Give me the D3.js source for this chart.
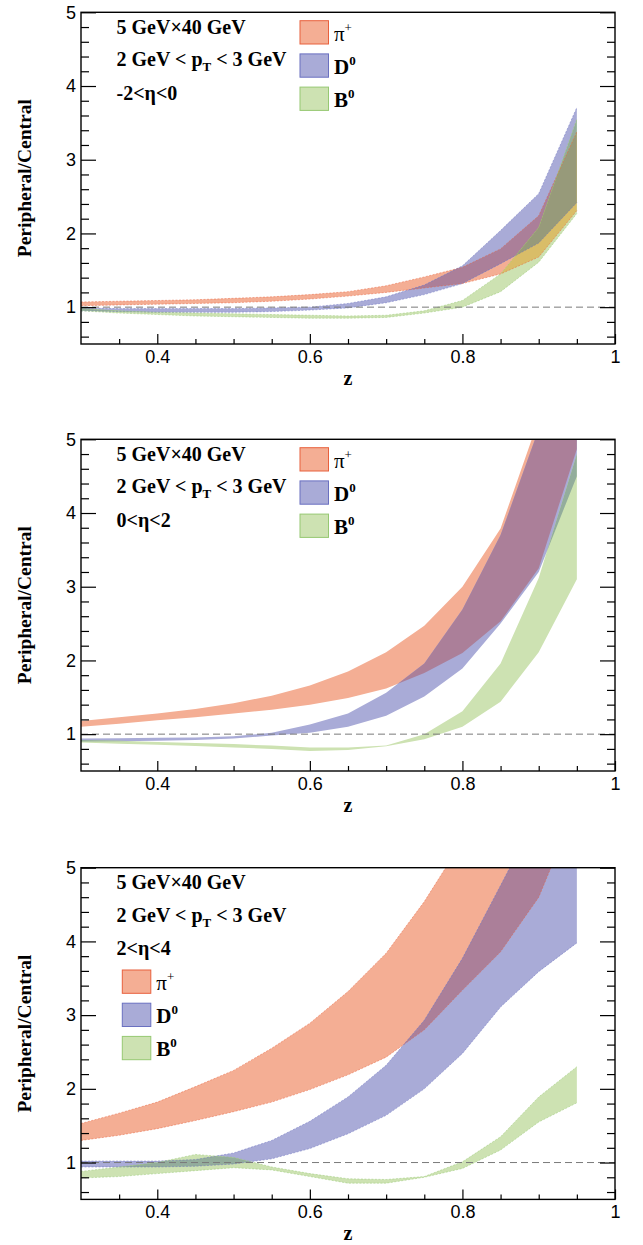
<!DOCTYPE html>
<html>
<head>
<meta charset="utf-8">
<script src="https://cdn.jsdelivr.net/npm/d3@7"></script>
<style>
  html, body { margin: 0; padding: 0; background: #fff; }
  svg { display: block; }
</style>
</head>
<body>
<script>
// z grid of the bands
const zValues = [0.3, 0.35, 0.4, 0.45, 0.5, 0.55, 0.6, 0.65, 0.7, 0.75, 0.8, 0.85, 0.9, 0.95];

const etaLabels = ["-2<η<0", "0<η<2", "2<η<4"];

// panel 1 : -2 < eta < 0
const pionUpper1 = [1.07, 1.08, 1.09, 1.10, 1.12, 1.14, 1.17, 1.21, 1.29, 1.41, 1.54, 1.79, 2.24, 3.38];
const pionLower1 = [1.02, 1.03, 1.04, 1.05, 1.06, 1.08, 1.11, 1.15, 1.20, 1.26, 1.32, 1.45, 1.68, 2.31];
const dUpper1 = [0.99, 0.98, 0.98, 0.98, 0.98, 0.99, 1.00, 1.05, 1.14, 1.30, 1.56, 2.04, 2.54, 3.71];
const dLower1 = [0.95, 0.94, 0.93, 0.93, 0.93, 0.94, 0.96, 0.99, 1.06, 1.17, 1.32, 1.59, 1.87, 2.42];
const bUpper1 = [0.98, 0.95, 0.93, 0.92, 0.91, 0.90, 0.89, 0.88, 0.89, 0.95, 1.09, 1.45, 2.08, 3.55];
const bLower1 = [0.95, 0.92, 0.90, 0.88, 0.87, 0.86, 0.85, 0.85, 0.86, 0.92, 1.00, 1.21, 1.61, 2.27];

// panel 2 : 0 < eta < 2
const pionUpper2 = [1.18, 1.23, 1.28, 1.34, 1.42, 1.52, 1.66, 1.85, 2.11, 2.47, 3.00, 3.79, 5.27, 6.50];
const pionLower2 = [1.10, 1.14, 1.19, 1.23, 1.28, 1.33, 1.40, 1.49, 1.62, 1.83, 2.10, 2.53, 3.25, 4.87];
const dUpper2 = [0.94, 0.945, 0.95, 0.955, 0.97, 1.02, 1.13, 1.28, 1.56, 1.96, 2.69, 3.70, 5.14, 6.50];
const dLower2 = [0.90, 0.905, 0.91, 0.92, 0.94, 0.98, 1.02, 1.10, 1.25, 1.51, 1.89, 2.50, 3.20, 4.50];
const bUpper2 = [0.92, 0.91, 0.895, 0.88, 0.865, 0.845, 0.82, 0.82, 0.845, 1.00, 1.31, 1.96, 3.12, 4.80];
const bLower2 = [0.885, 0.87, 0.855, 0.84, 0.82, 0.80, 0.77, 0.785, 0.835, 0.93, 1.10, 1.44, 2.11, 3.10];

// panel 3 : 2 < eta < 4
const pionUpper3 = [1.53, 1.67, 1.82, 2.03, 2.25, 2.55, 2.89, 3.32, 3.84, 4.54, 5.36, 6.30, 7.30, 8.30];
const pionLower3 = [1.30, 1.37, 1.46, 1.57, 1.69, 1.82, 1.99, 2.19, 2.43, 2.80, 3.34, 3.86, 4.60, 5.85];
const dUpper3 = [1.02, 1.02, 1.02, 1.04, 1.13, 1.30, 1.56, 1.89, 2.32, 2.93, 3.77, 4.76, 5.75, 6.70];
const dLower3 = [0.94, 0.94, 0.94, 0.95, 0.98, 1.05, 1.19, 1.39, 1.64, 2.00, 2.48, 3.11, 3.59, 3.98];
const bUpper3 = [0.88, 0.94, 1.00, 1.11, 1.07, 0.94, 0.85, 0.78, 0.77, 0.81, 1.01, 1.35, 1.89, 2.30];
const bLower3 = [0.79, 0.81, 0.85, 0.89, 0.93, 0.90, 0.81, 0.72, 0.72, 0.80, 0.92, 1.17, 1.55, 1.81];

const yTicks = [1, 2, 3, 4, 5];
const yMinor = [0.6, 0.8, 1.2, 1.4, 1.6, 1.8, 2.2, 2.4, 2.6, 2.8, 3.2, 3.4, 3.6, 3.8, 4.2, 4.4, 4.6, 4.8];
const xTicks = [0.4, 0.6, 0.8, 1];
const xMinor = [0.35, 0.45, 0.5, 0.55, 0.65, 0.7, 0.75, 0.85, 0.9, 0.95];

const panels = [
	{ eta: etaLabels[0], pion: [pionLower1, pionUpper1], d0: [dLower1, dUpper1], b0: [bLower1, bUpper1], edges: true, legend: "right" },
	{ eta: etaLabels[1], pion: [pionLower2, pionUpper2], d0: [dLower2, dUpper2], b0: [bLower2, bUpper2], edges: false, legend: "right" },
	{ eta: etaLabels[2], pion: [pionLower3, pionUpper3], d0: [dLower3, dUpper3], b0: [bLower3, bUpper3], edges: true, legend: "left" }
];

const colors = {
	pion: { fill: "#f4ae94", line: "#e8603c" },
	d0: { fill: "#a9abd7", line: "#6a70c0" },
	b0: { fill: "#cde2b2", line: "#96c872" },
	pd: "#ab7f99",
	db: "#93ad9c",
	pb: "#d9bd68",
	pdb: "#979a7a"
};

const W = 643, H = 1245;
const left = 81, right = 615;
const panelTops = [12.3, 439.3, 867.7];
const panelH = 331.7;
const serif = "'Liberation Serif', 'Times New Roman', serif";
const sans = "'Liberation Sans', Arial, sans-serif";

const svg = d3.select("body").append("svg")
	.attr("width", W)
	.attr("height", H);

svg.append("rect").attr("width", W).attr("height", H).attr("fill", "#fff");
const defs = svg.append("defs");

const x = d3.scaleLinear().domain([0.3, 1]).range([left, right]);

panels.forEach((p, i) => {
	const top = panelTops[i];
	const bottom = top + panelH;
	const y = d3.scaleLinear().domain([0.5, 5]).range([bottom, top]);

	const toRows = ([lo, hi]) => zValues.map((z, k) => ({ z, lo: lo[k], hi: hi[k] }));
	const area = d3.area().x(d => x(d.z)).y0(d => y(d.lo)).y1(d => y(d.hi));
	const edgeLo = d3.line().x(d => x(d.z)).y(d => y(d.lo));
	const edgeHi = d3.line().x(d => x(d.z)).y(d => y(d.hi));

	const bands = {
		pion: toRows(p.pion),
		d0: toRows(p.d0),
		b0: toRows(p.b0)
	};

	// clip paths: plot area and each band
	defs.append("clipPath").attr("id", `plot${i}`)
		.append("rect").attr("x", left).attr("y", top).attr("width", right - left).attr("height", panelH);
	Object.entries(bands).forEach(([key, rows]) => {
		defs.append("clipPath").attr("id", `c${i}-${key}`)
			.append("path").attr("d", area(rows));
	});

	const g = svg.append("g").attr("clip-path", `url(#plot${i})`);

	// plain bands
	["pion", "d0", "b0"].forEach(key => {
		g.append("path").attr("d", area(bands[key])).attr("fill", colors[key].fill);
	});

	// overlaps
	g.append("g").attr("clip-path", `url(#c${i}-pion)`)
		.append("path").attr("d", area(bands.d0)).attr("fill", colors.pd);
	g.append("g").attr("clip-path", `url(#c${i}-d0)`)
		.append("path").attr("d", area(bands.b0)).attr("fill", colors.db);
	g.append("g").attr("clip-path", `url(#c${i}-pion)`)
		.append("path").attr("d", area(bands.b0)).attr("fill", colors.pb);
	g.append("g").attr("clip-path", `url(#c${i}-pion)`)
		.append("g").attr("clip-path", `url(#c${i}-d0)`)
		.append("path").attr("d", area(bands.b0)).attr("fill", colors.pdb);

	if (p.edges) {
		["pion", "d0", "b0"].forEach(key => {
			[edgeLo, edgeHi].forEach(fn => {
				g.append("path").attr("d", fn(bands[key]))
					.attr("fill", "none")
					.attr("stroke", colors[key].line)
					.attr("stroke-width", 0.8)
					.attr("stroke-opacity", 0.6)
					.attr("stroke-dasharray", "2,1.5");
			});
		});
	}

	// dashed reference at 1
	svg.append("line")
		.attr("x1", left).attr("x2", right)
		.attr("y1", y(1)).attr("y2", y(1))
		.attr("stroke", "#7a7a7a")
		.attr("stroke-width", 1)
		.attr("stroke-dasharray", "7,4");

	// axes (ticks point inward)
	const axisG = svg.append("g");
	axisG.append("g").attr("transform", `translate(${left},0)`)
		.call(d3.axisLeft(y).tickValues(yTicks).tickSizeInner(-15).tickSizeOuter(0).tickPadding(5).tickFormat(d3.format("d")));
	axisG.append("g").attr("transform", `translate(${left},0)`)
		.call(d3.axisLeft(y).tickValues(yMinor).tickSizeInner(-8).tickSizeOuter(0).tickFormat(""));
	axisG.append("g").attr("transform", `translate(${right},0)`)
		.call(d3.axisRight(y).tickValues(yTicks).tickSizeInner(-15).tickSizeOuter(0).tickFormat(""));
	axisG.append("g").attr("transform", `translate(${right},0)`)
		.call(d3.axisRight(y).tickValues(yMinor).tickSizeInner(-8).tickSizeOuter(0).tickFormat(""));
	axisG.append("g").attr("transform", `translate(0,${bottom})`)
		.call(d3.axisBottom(x).tickValues(xTicks).tickSizeInner(-10).tickSizeOuter(0).tickPadding(6).tickFormat(d => d === 1 ? "1" : d3.format(".1f")(d)));
	axisG.append("g").attr("transform", `translate(0,${bottom})`)
		.call(d3.axisBottom(x).tickValues(xMinor).tickSizeInner(-5).tickSizeOuter(0).tickFormat(""));

	axisG.selectAll(".domain").remove();
	axisG.selectAll(".tick line").attr("stroke", "#000").attr("stroke-width", 1.2);
	axisG.selectAll(".tick text")
		.attr("font-family", sans)
		.attr("font-size", 18)
		.attr("fill", "#000");

	// frame
	svg.append("rect")
		.attr("x", left).attr("y", top)
		.attr("width", right - left).attr("height", panelH)
		.attr("fill", "none")
		.attr("stroke", "#000")
		.attr("stroke-width", 1.4);

	// axis titles
	svg.append("text")
		.attr("transform", `translate(31,${(top + bottom) / 2}) rotate(-90)`)
		.attr("text-anchor", "middle")
		.attr("font-family", serif)
		.attr("font-weight", "bold")
		.attr("font-size", 19.5)
		.text("Peripheral/Central");

	svg.append("text")
		.attr("x", (left + right) / 2)
		.attr("y", bottom + 41)
		.attr("text-anchor", "middle")
		.attr("font-family", serif)
		.attr("font-weight", "bold")
		.attr("font-size", 20)
		.text("z");

	// annotation text
	const info = svg.append("g")
		.attr("font-family", serif)
		.attr("font-weight", "bold")
		.attr("font-size", 20)
		.attr("fill", "#000");
	info.append("text").attr("x", 116.5).attr("y", top + 21.5).text("5 GeV×40 GeV");
	const pt = info.append("text").attr("x", 116.5).attr("y", top + 54);
	pt.append("tspan").text("2 GeV < p");
	pt.append("tspan").attr("dy", 5).attr("font-size", 13).text("T");
	pt.append("tspan").attr("dy", -5).text(" < 3 GeV");
	info.append("text").attr("x", 116.5).attr("y", top + 87.5).text(p.eta);

	// legend
	const lx = p.legend === "right" ? 300 : 122.3;
	const ly = p.legend === "right" ? top + 8.4 : top + 102.3;
	const entries = [
		{ key: "pion", base: "π", sup: "+", weight: "normal" },
		{ key: "d0", base: "D", sup: "0", weight: "bold" },
		{ key: "b0", base: "B", sup: "0", weight: "bold" }
	];
	entries.forEach((e, k) => {
		const yy = ly + k * 33.2;
		svg.append("rect")
			.attr("x", lx).attr("y", yy)
			.attr("width", 28.5).attr("height", 23.3)
			.attr("fill", colors[e.key].fill)
			.attr("stroke", colors[e.key].line)
			.attr("stroke-width", 1);
		const t = svg.append("text")
			.attr("x", lx + 34)
			.attr("y", yy + 20)
			.attr("font-family", serif)
			.attr("font-size", 21)
			.attr("font-weight", e.weight);
		t.append("tspan").text(e.base);
		t.append("tspan").attr("dy", -9).attr("font-size", 13).attr("font-weight", e.weight).text(e.sup);
	});
});
</script>
</body>
</html>
